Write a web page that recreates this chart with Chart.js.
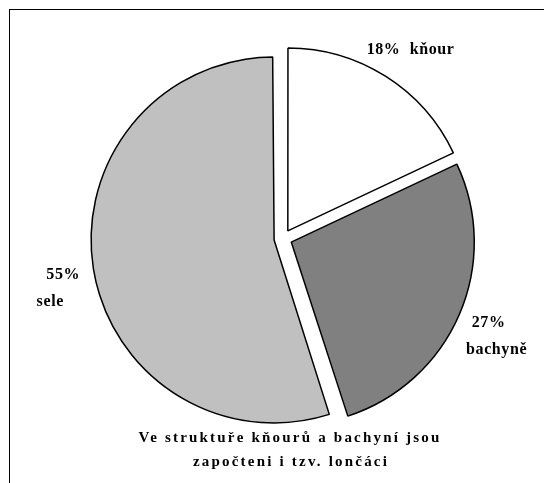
<!DOCTYPE html>
<html>
<head>
<meta charset="utf-8">
<script src="https://cdn.jsdelivr.net/npm/chart.js@4.4.1/dist/chart.umd.min.js"></script>
<style>
  html, body { margin: 0; padding: 0; background: #fff; }
  #wrap { position: relative; width: 544px; height: 483px; }
  #frame { position: absolute; left: 9px; top: 9px; right: 0; bottom: 0;
           border-top: 1px solid #000; border-left: 1px solid #000; }
  canvas { position: absolute; left: 0; top: 0; }
</style>
</head>
<body>
<div id="wrap">
  <div id="frame"></div>
  <canvas id="pie" width="544" height="483"></canvas>
</div>
<script>
// Struktura stáda prasat (%)
const categories = ['kňour', 'bachyně', 'sele'];
const shares = [18, 27, 55];
const sliceColors = ['#ffffff', '#808080', '#c0c0c0'];
const note = ['Ve struktuře kňourů a bachyní jsou', 'započteni i tzv. lončáci'];

// popisky: řádky textu a posun každého řádku [dx, dy] od kotvy výseče
const labelLines = [
    [shares[0] + '%  ' + categories[0]],
    [shares[1] + '%', categories[1]],
    [shares[2] + '%', categories[2]]
];
const lineShift = [
    [[4, 6]],
    [[-6, -7], [2, 20]],
    [[8, 0], [-5, 27]]
];

const serif = '"Liberation Serif", "Times New Roman", serif';

// velká výseč (>180°) se v Chart.js při offsetu zvětší, vrátíme poloměr zpět
const keepRadius = {
    id: 'keepRadius',
    afterDatasetUpdate(chart, args) {
        args.meta.data.forEach(arc => {
            const circ = arc.endAngle - arc.startAngle;
            const fix = 1 - Math.sin(Math.min(Math.PI, circ));
            arc.outerRadius -= (arc.options.offset || 0) / 4 * fix;
        });
    }
};

// popisky výsečí + poznámka pod grafem
const labelPlugin = {
    id: 'sliceLabels',
    afterDraw(chart) {
        const ctx = chart.ctx;
        const arcs = chart.getDatasetMeta(0).data;
        ctx.save();
        ctx.fillStyle = '#000';
        ctx.textAlign = 'center';
        ctx.textBaseline = 'middle';
        ctx.font = 'bold 16px ' + serif;
        ctx.letterSpacing = '0.6px';
        arcs.forEach((arc, i) => {
            const mid = (arc.startAngle + arc.endAngle) / 2;
            const dist = 183 * 1.26;
            const ax = arc.x + Math.cos(mid) * dist;
            const ay = arc.y + Math.sin(mid) * dist;
            labelLines[i].forEach((t, j) => {
                ctx.fillText(t, ax + lineShift[i][j][0], ay + lineShift[i][j][1]);
            });
        });
        ctx.font = 'bold 15px ' + serif;
        ctx.letterSpacing = '2.2px';
        ctx.fillText(note[0], 290, 438);
        ctx.fillText(note[1], 291, 462);
        ctx.restore();
    }
};

new Chart(document.getElementById('pie'), {
    type: 'pie',
    data: {
        labels: categories,
        datasets: [{
            data: shares,
            backgroundColor: sliceColors,
            borderColor: '#000',
            borderWidth: 1.5,
            offset: 36
        }]
    },
    options: {
        responsive: false,
        animation: false,
        radius: 183,
        layout: { padding: { left: 61, right: 39, top: 20, bottom: 26 } },
        plugins: {
            legend: { display: false },
            tooltip: { enabled: false }
        }
    },
    plugins: [keepRadius, labelPlugin]
});
</script>
</body>
</html>
